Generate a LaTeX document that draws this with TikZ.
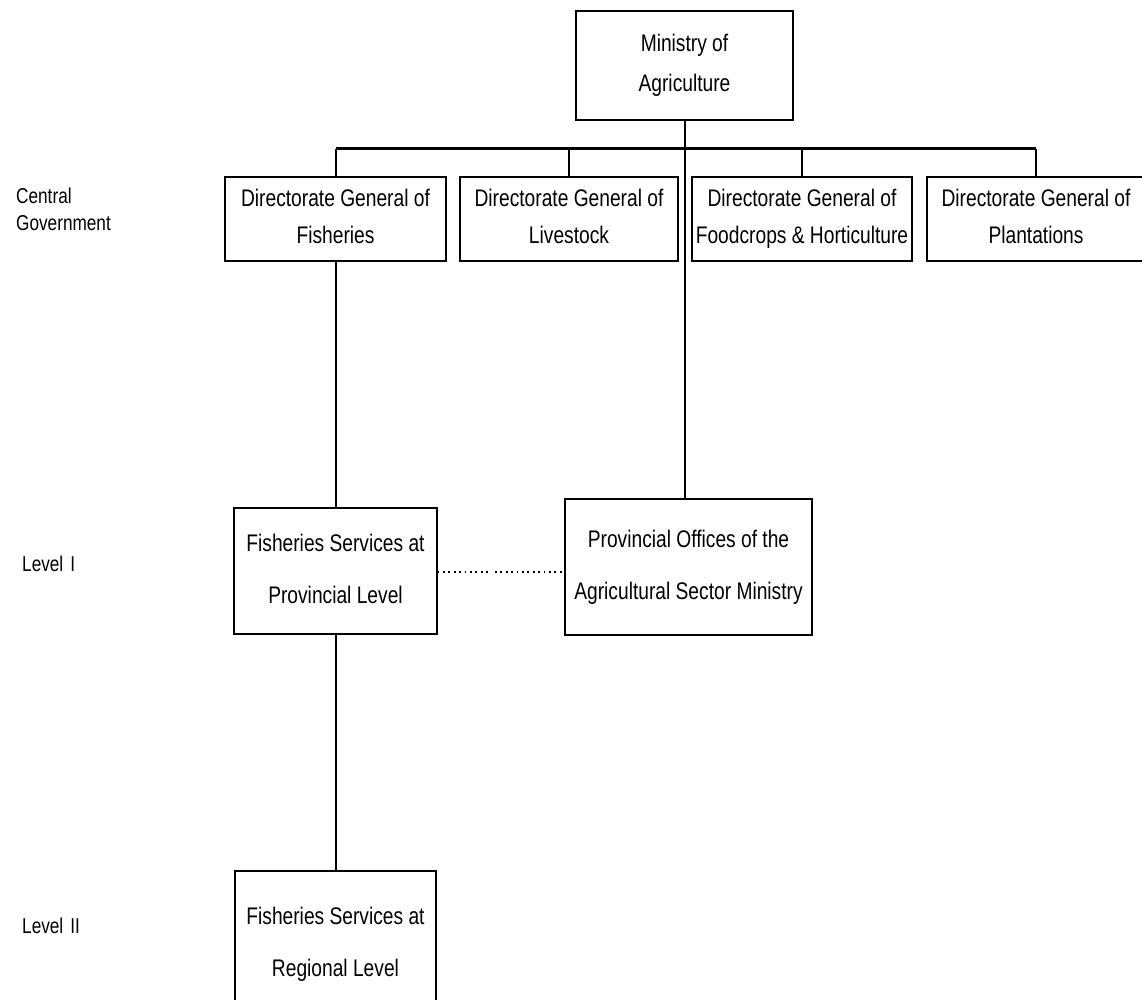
\documentclass[tikz,border=0pt]{standalone}
\usepackage{fontspec}
\setmainfont[FakeStretch=0.8]{Liberation Sans}
\begin{document}
\begin{tikzpicture}[x=1pt,y=-1pt,
  box/.style={draw, line width=1.1pt, inner sep=0pt, align=center},
  dgtxt/.style={font=\fontsize{24}{37}\selectfont},
  mintxt/.style={font=\fontsize{24}{40}\selectfont},
  provtxt/.style={font=\fontsize{24}{52}\selectfont},
  lbl/.style={font=\fontsize{21.5}{27}\selectfont, align=left, anchor=west, inner sep=0pt},
  conn/.style={line width=2pt},
  bus/.style={line width=3pt},
  dotline/.style={line width=1.8pt, dash pattern=on 1.8pt off 3.6pt}]
\useasboundingbox (0,0) rectangle (1142,1000);
\clip (0,0) rectangle (1142,1000);
% boxes
\node[box, mintxt, minimum width=217pt, minimum height=109pt] (min) at (684.5,65.5) {Ministry of\\Agriculture\vphantom{p}};
\node[box, dgtxt, minimum width=221pt, minimum height=84pt] (dgf) at (335.5,219) {Directorate General of\\Fisheries\vphantom{p}};
\node[box, dgtxt, minimum width=218pt, minimum height=84pt] (dgl) at (569,219) {Directorate General of\\Livestock\vphantom{p}};
\node[box, dgtxt, minimum width=220pt, minimum height=84pt] (dgh) at (802,219) {Directorate General of\\Foodcrops \& Horticulture};
\node[box, dgtxt, minimum width=218pt, minimum height=84pt] (dgp) at (1036,219) {Directorate General of\\Plantations\vphantom{p}};
\node[box, provtxt, minimum width=203pt, minimum height=126pt] (fsp) at (335.5,571) {Fisheries Services at\\Provincial Level\vphantom{p}};
\node[box, provtxt, minimum width=247pt, minimum height=136pt] (pof) at (688.5,567) {Provincial Offices of the\\Agricultural Sector Ministry};
\node[box, provtxt, minimum width=201pt, minimum height=146pt] (fsr) at (335.5,944) {Fisheries Services at\\Regional Level};
% side labels
\node[lbl] (lcg) at (16,209) {Central\\Government};
\node[lbl] (l1) at (22,564) {Level\hspace{7pt}I};
\node[lbl] (l2) at (22,926) {Level\hspace{7pt}II};
% connectors
\coordinate (bl) at (335.5,149);
\coordinate (br) at (1036,149);
\draw[bus] (bl) -- (br);
\draw[conn] (min.south) -- (min.south |- pof.north);
\draw[conn] (bl) -- (dgf.north);
\draw[conn] (dgl.north |- bl) -- (dgl.north);
\draw[conn] (dgh.north |- bl) -- (dgh.north);
\draw[conn] (br) -- (dgp.north);
\draw[conn] (dgf.south) -- (fsp.north);
\draw[conn] (fsp.south) -- (fsr.north);
\coordinate (gapa) at (488,572);
\coordinate (gapb) at (495,572);
\draw[dotline] (fsp.east |- gapa) -- (gapa);
\draw[dotline] (gapb) -- (pof.west |- gapb);
\end{tikzpicture}
\end{document}
